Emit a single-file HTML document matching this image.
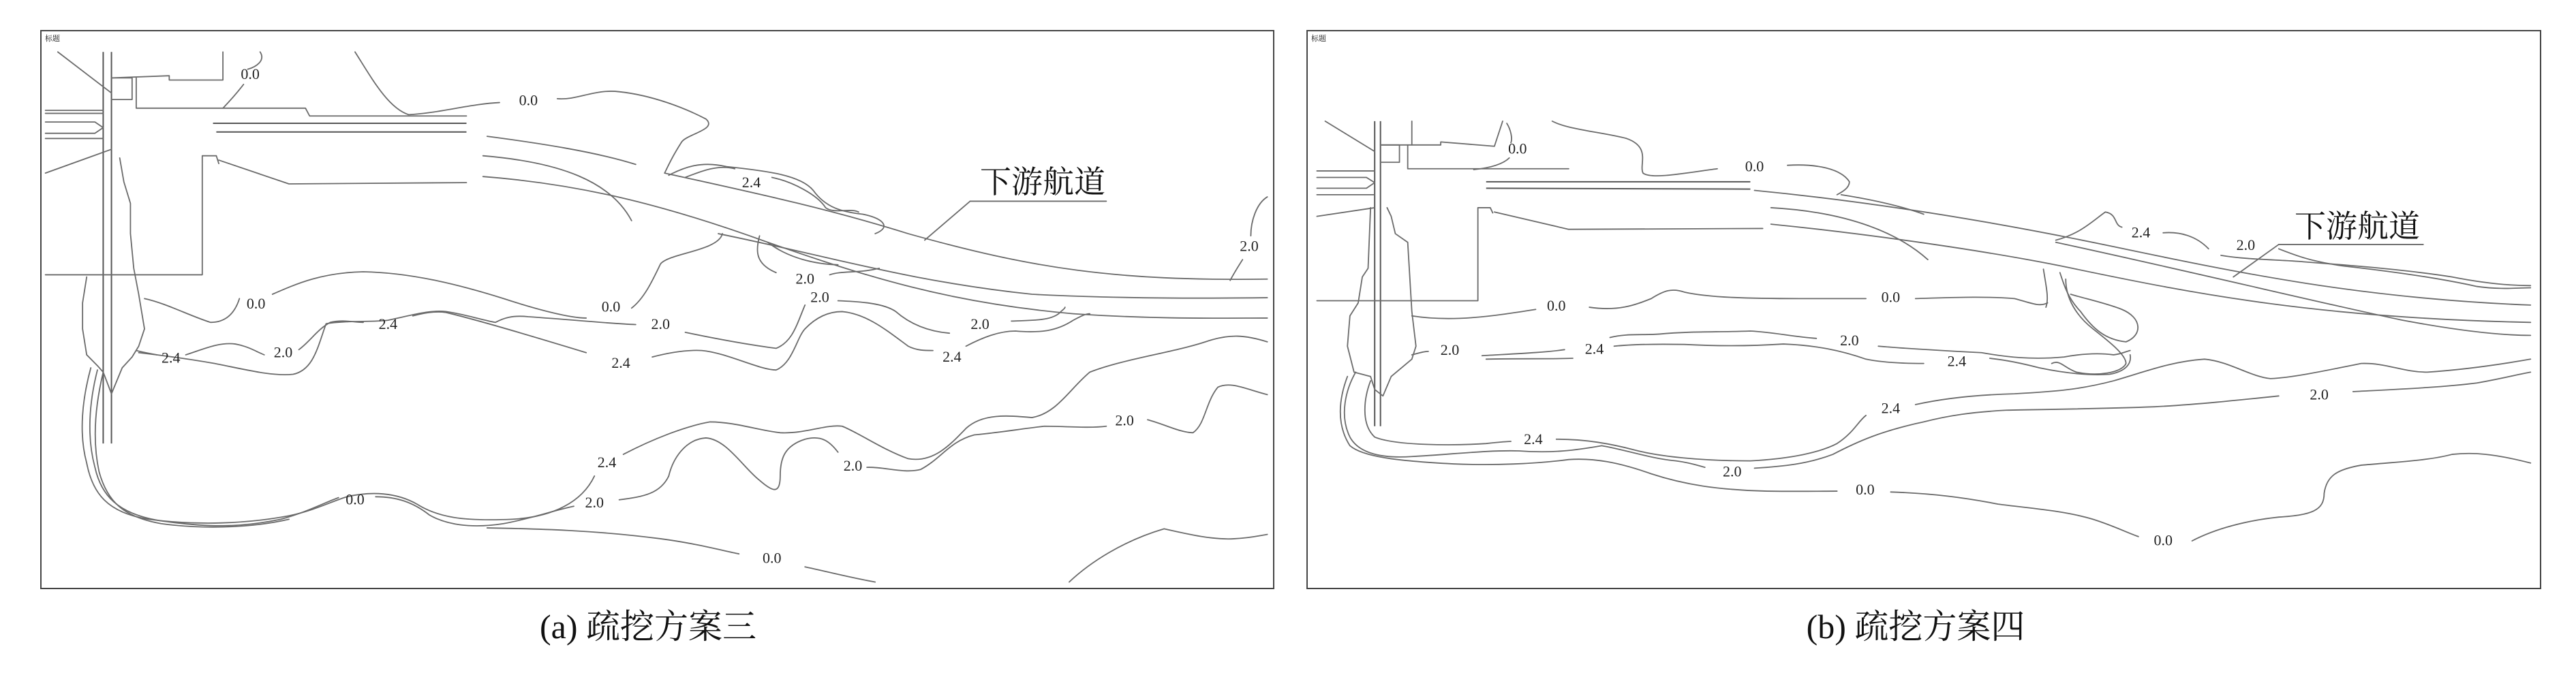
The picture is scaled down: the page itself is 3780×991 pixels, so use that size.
<!DOCTYPE html>
<html><head><meta charset="utf-8"><style>
html,body{margin:0;padding:0;background:#fff;}
svg{display:block;}
.c{fill:none;stroke:#6a6a6a;stroke-width:1.8;stroke-linejoin:round;stroke-linecap:round;}
.k{fill:none;stroke:#555;stroke-width:2;}
.l{font-family:"Liberation Serif",serif;font-size:22px;fill:#222;text-anchor:middle;dominant-baseline:middle;}
.cn{font-family:"Liberation Serif","Noto Serif CJK SC",serif;fill:#111;}
</style></head><body>
<svg width="3780" height="991" viewBox="0 0 3780 991" xmlns="http://www.w3.org/2000/svg">
<rect x="0" y="0" width="3780" height="991" fill="#fff"/>
<rect x="60" y="45" width="1809" height="819" fill="none" stroke="#444" stroke-width="2"/>
<rect x="1918" y="45" width="1810" height="819" fill="none" stroke="#444" stroke-width="2"/>
<text x="66" y="60" font-size="11" class="cn">标题</text>
<text x="1924" y="60" font-size="11" class="cn">标题</text>
<text x="951" y="937" font-size="50" class="cn" text-anchor="middle">(a) 疏挖方案三</text>
<text x="2811" y="937" font-size="50" class="cn" text-anchor="middle">(b) 疏挖方案四</text>

<!-- Panel A -->
<g transform="scale(1.2115 0.6353)">
<g vector-effect="non-scaling-stroke">
<polyline class="k" vector-effect="non-scaling-stroke" points="125,120 125,1025"/>
<polyline class="k" vector-effect="non-scaling-stroke" points="135,120 135,1025"/>
<polyline class="c" vector-effect="non-scaling-stroke" points="70,120 135,215"/>
<polyline class="c" vector-effect="non-scaling-stroke" points="135,180 205,175 205,185 270,185 270,120"/>
<polyline class="c" vector-effect="non-scaling-stroke" points="135,180 160,180 160,230 135,230"/>
<polyline class="c" vector-effect="non-scaling-stroke" points="165,180 165,250 370,250 375,268 565,268"/>
<polyline class="k" vector-effect="non-scaling-stroke" points="258,285 565,285"/>
<polyline class="k" vector-effect="non-scaling-stroke" points="262,305 565,305"/>
<polyline class="c" vector-effect="non-scaling-stroke" points="55,255 125,255"/>
<polyline class="c" vector-effect="non-scaling-stroke" points="55,262 125,262"/>
<polyline class="c" vector-effect="non-scaling-stroke" points="55,282 115,282 125,295 115,308 55,308"/>
<polyline class="c" vector-effect="non-scaling-stroke" points="55,320 125,320"/>
<polyline class="c" vector-effect="non-scaling-stroke" points="55,400 135,345"/>
<polyline class="c" vector-effect="non-scaling-stroke" points="55,635 245,635 245,360 262,360 265,378"/>
<polyline class="c" vector-effect="non-scaling-stroke" points="265,370 350,425 565,422"/>
<polyline class="c" vector-effect="non-scaling-stroke" points="145,365 150,420 158,470 158,540 162,620 168,680 175,760 168,800 160,825 148,850 135,910 125,860 118,845 105,820 100,760 100,700 105,640"/>
<!-- channel -->
<path class="c" vector-effect="non-scaling-stroke" d="M805,400 C900,440 1000,480 1100,540 C1250,620 1350,650 1535,645"/>
<path class="c" vector-effect="non-scaling-stroke" d="M590,315 C650,330 720,350 770,380"/>
<path class="c" vector-effect="non-scaling-stroke" d="M585,360 C680,375 740,420 765,510"/>
<path class="c" vector-effect="non-scaling-stroke" d="M585,408 C700,425 800,470 930,560 C1050,640 1150,700 1300,725 C1400,738 1480,735 1535,735"/>
<path class="c" vector-effect="non-scaling-stroke" d="M870,540 C1000,590 1100,650 1250,680 C1350,690 1450,690 1535,688"/>
<polyline class="c" vector-effect="non-scaling-stroke" points="1175,465 1340,465"/>
<polyline class="c" vector-effect="non-scaling-stroke" points="1175,465 1120,555"/>
<!-- contours -->
<path class="c" vector-effect="non-scaling-stroke" d="M315,120 C322,140 310,155 300,160 M295,195 C285,220 276,238 270,250"/>
<path class="c" vector-effect="non-scaling-stroke" d="M430,120 C450,180 470,250 495,265 C530,262 570,240 605,237 M675,228 C700,232 720,205 750,212 C790,220 830,250 855,275 C870,300 830,310 825,330 C815,360 810,380 805,400"/>
<path class="c" vector-effect="non-scaling-stroke" d="M810,405 C830,385 850,372 880,385 C930,395 970,405 985,440 C1000,480 1020,490 1045,495 C1070,505 1080,525 1060,540"/>
<path class="c" vector-effect="non-scaling-stroke" d="M830,410 C850,395 870,380 890,390 M935,410 C960,420 990,450 1000,480 C1010,495 1030,480 1040,490"/>
<path class="c" vector-effect="non-scaling-stroke" d="M175,690 C200,700 230,730 255,745 C275,745 285,720 290,690 M330,680 C360,655 390,630 440,628 C500,630 560,660 610,690 C650,715 690,735 710,735 M765,712 C780,690 790,650 800,610 C810,585 870,580 875,540"/>
<path class="c" vector-effect="non-scaling-stroke" d="M920,545 C915,580 915,610 940,630 M1005,635 C1020,625 1040,632 1065,620 M930,560 C950,590 980,610 1015,612"/>
<path class="c" vector-effect="non-scaling-stroke" d="M165,810 C175,815 185,818 190,820 M225,820 C245,808 265,790 285,795 C300,800 310,812 320,820 M362,808 C375,790 385,760 400,745 C415,738 430,745 440,745 M500,730 C510,725 525,718 540,722 C580,740 650,780 710,815 M790,825 C810,815 830,808 850,810 C880,815 920,855 940,855 C960,840 965,780 975,760 C985,740 1000,720 1020,720 C1050,725 1075,765 1100,800 C1110,810 1120,810 1130,810 M1170,800 C1190,780 1210,765 1230,765 C1260,770 1280,765 1300,740 C1310,730 1315,725 1320,725"/>
<path class="c" vector-effect="non-scaling-stroke" d="M168,815 C200,822 230,830 260,840 C300,855 330,870 355,865 C380,855 385,800 395,748 C420,740 450,745 470,740 C500,728 520,716 540,720 C560,725 585,740 600,745 C610,735 620,728 640,732 C700,740 740,748 770,750 M830,768 C860,780 900,795 940,805 C960,790 965,750 975,705 M1015,695 C1040,697 1070,700 1085,720 C1100,745 1120,765 1150,770 M1225,742 C1250,740 1275,742 1285,720 C1288,715 1290,712 1290,710"/>
<path class="c" vector-effect="non-scaling-stroke" d="M110,850 C100,920 95,1000 105,1070 C112,1140 130,1185 180,1200 C240,1215 300,1210 350,1192 C380,1180 400,1160 420,1148 C450,1135 480,1138 505,1165 C530,1195 560,1205 620,1200 C670,1195 705,1160 720,1100 M755,1050 C790,1015 830,985 860,975 C890,975 920,995 945,1000 C975,1003 1000,980 1020,985 C1040,1000 1070,1040 1100,1060 C1130,1070 1150,1030 1170,990 C1190,955 1220,960 1250,965 C1280,955 1295,900 1320,860 C1360,830 1420,815 1460,790 C1490,770 1510,775 1535,790"/>
<path class="c" vector-effect="non-scaling-stroke" d="M118,855 C108,930 105,1010 115,1080 C122,1140 140,1190 200,1205 C250,1218 290,1220 340,1200 C370,1185 395,1160 410,1150 M455,1148 C480,1148 500,1160 520,1190 C540,1212 570,1222 610,1210 C640,1200 670,1180 695,1170 M750,1155 C780,1148 800,1140 810,1100 C815,1060 830,1015 855,1012 C880,1015 900,1080 920,1110 C935,1135 945,1145 945,1100 C945,1060 950,1030 975,1015 C995,1005 1005,1020 1015,1045 M1050,1080 C1070,1078 1095,1095 1115,1085 C1140,1060 1150,1020 1180,1005 C1210,1000 1240,990 1265,985 C1290,985 1320,990 1340,985 M1390,970 C1410,980 1430,1000 1445,1000 C1460,980 1460,930 1475,895 C1490,880 1510,900 1535,912"/>
<path class="c" vector-effect="non-scaling-stroke" d="M125,860 C115,940 112,1020 120,1090 C130,1160 150,1195 195,1210 C240,1222 300,1222 350,1200 M590,1220 C650,1222 720,1225 800,1245 C840,1255 870,1270 895,1280 M975,1310 C1000,1320 1030,1335 1060,1345"/>
<path class="c" vector-effect="non-scaling-stroke" d="M1295,1345 C1320,1300 1360,1250 1410,1222 C1440,1235 1470,1248 1495,1245 C1515,1243 1525,1238 1535,1235"/>
<path class="c" vector-effect="non-scaling-stroke" d="M1535,455 C1522,470 1515,510 1515,545 M1505,600 C1500,615 1495,630 1490,648"/>
<!-- labels -->
<g transform="translate(303 175) scale(.8254 1.574)"><text class="l">0.0</text></g>
<g transform="translate(640 235) scale(.8254 1.574)"><text class="l">0.0</text></g>
<g transform="translate(910 425) scale(.8254 1.574)"><text class="l">2.4</text></g>
<g transform="translate(310 705) scale(.8254 1.574)"><text class="l">0.0</text></g>
<g transform="translate(740 712) scale(.8254 1.574)"><text class="l">0.0</text></g>
<g transform="translate(975 648) scale(.8254 1.574)"><text class="l">2.0</text></g>
<g transform="translate(993 690) scale(.8254 1.574)"><text class="l">2.0</text></g>
<g transform="translate(800 752) scale(.8254 1.574)"><text class="l">2.0</text></g>
<g transform="translate(1187 752) scale(.8254 1.574)"><text class="l">2.0</text></g>
<g transform="translate(470 752) scale(.8254 1.574)"><text class="l">2.4</text></g>
<g transform="translate(207 830) scale(.8254 1.574)"><text class="l">2.4</text></g>
<g transform="translate(343 818) scale(.8254 1.574)"><text class="l">2.0</text></g>
<g transform="translate(752 842) scale(.8254 1.574)"><text class="l">2.4</text></g>
<g transform="translate(1153 828) scale(.8254 1.574)"><text class="l">2.4</text></g>
<g transform="translate(1513 572) scale(.8254 1.574)"><text class="l">2.0</text></g>
<g transform="translate(1362 975) scale(.8254 1.574)"><text class="l">2.0</text></g>
<g transform="translate(735 1072) scale(.8254 1.574)"><text class="l">2.4</text></g>
<g transform="translate(1033 1080) scale(.8254 1.574)"><text class="l">2.0</text></g>
<g transform="translate(430 1158) scale(.8254 1.574)"><text class="l">0.0</text></g>
<g transform="translate(720 1165) scale(.8254 1.574)"><text class="l">2.0</text></g>
<g transform="translate(935 1293) scale(.8254 1.574)"><text class="l">0.0</text></g>
</g>
</g>
<text x="1530" y="283" font-size="46" class="cn" text-anchor="middle">下游航道</text>

<!-- Panel B -->
<g transform="translate(1890 0) scale(1.2115 0.6353)">
<polyline class="k" vector-effect="non-scaling-stroke" points="105,280 105,985"/>
<polyline class="k" vector-effect="non-scaling-stroke" points="112,280 112,985"/>
<polyline class="c" vector-effect="non-scaling-stroke" points="45,280 105,350"/>
<polyline class="c" vector-effect="non-scaling-stroke" points="112,335 185,335 185,328 250,338 260,280"/>
<polyline class="c" vector-effect="non-scaling-stroke" points="150,280 150,335"/>
<polyline class="c" vector-effect="non-scaling-stroke" points="112,335 135,335 135,375 112,375"/>
<polyline class="c" vector-effect="non-scaling-stroke" points="145,335 145,390 340,390"/>
<polyline class="k" vector-effect="non-scaling-stroke" points="240,420 560,420"/>
<polyline class="k" vector-effect="non-scaling-stroke" points="240,435 560,437"/>
<polyline class="c" vector-effect="non-scaling-stroke" points="35,395 105,395"/>
<polyline class="c" vector-effect="non-scaling-stroke" points="35,410 95,410 105,422 95,435 35,435"/>
<polyline class="c" vector-effect="non-scaling-stroke" points="35,450 105,450"/>
<polyline class="c" vector-effect="non-scaling-stroke" points="35,500 105,480"/>
<polyline class="c" vector-effect="non-scaling-stroke" points="35,695 230,695 230,480 245,480 248,492"/>
<polyline class="c" vector-effect="non-scaling-stroke" points="250,490 340,530 575,528"/>
<polyline class="c" vector-effect="non-scaling-stroke" points="120,480 125,500 130,540 145,560 150,720 155,800 150,830 125,870 115,915 105,900 100,870 80,860 72,800 75,730 85,700 90,640 97,620 100,480"/>
<!-- channel -->
<path class="c" vector-effect="non-scaling-stroke" d="M565,440 C700,465 850,510 1000,570 C1150,630 1300,690 1505,705"/>
<path class="c" vector-effect="non-scaling-stroke" d="M670,450 C710,462 745,478 770,495"/>
<path class="c" vector-effect="non-scaling-stroke" d="M585,480 C680,490 740,540 775,600"/>
<path class="c" vector-effect="non-scaling-stroke" d="M585,518 C700,540 850,580 950,620 C1100,680 1250,735 1505,745"/>
<path class="c" vector-effect="non-scaling-stroke" d="M930,560 C1100,630 1250,700 1350,740 C1420,765 1470,775 1505,775"/>
<polyline class="c" vector-effect="non-scaling-stroke" points="1200,565 1375,565"/>
<polyline class="c" vector-effect="non-scaling-stroke" points="1200,565 1145,640"/>
<!-- contours -->
<path class="c" vector-effect="non-scaling-stroke" d="M265,285 C270,300 272,320 270,330 M268,365 C260,380 245,388 225,392"/>
<path class="c" vector-effect="non-scaling-stroke" d="M320,280 C340,300 380,305 410,320 C440,340 425,380 430,400 C440,415 480,400 520,390 M605,382 C640,378 670,390 680,420 C680,435 670,445 665,450"/>
<path class="c" vector-effect="non-scaling-stroke" d="M930,555 C960,540 975,510 990,490 C1005,495 1000,520 1010,525 M1060,538 C1080,535 1100,545 1115,575 M1200,575 C1220,590 1240,605 1280,615 C1350,630 1400,645 1440,662 C1470,670 1490,665 1505,665"/>
<path class="c" vector-effect="non-scaling-stroke" d="M1130,590 C1160,600 1200,600 1230,605 C1300,615 1360,625 1410,640 C1450,655 1480,660 1505,660"/>
<path class="c" vector-effect="non-scaling-stroke" d="M915,622 C918,660 922,690 918,710"/>
<path class="c" vector-effect="non-scaling-stroke" d="M935,630 C940,660 945,690 960,720 C975,760 990,785 1015,790 C1035,775 1035,735 1010,715 C990,700 965,690 948,680"/>
<path class="c" vector-effect="non-scaling-stroke" d="M942,645 C942,690 955,730 975,760 C995,790 1015,820 1015,840 C1010,862 980,870 955,860 C940,850 935,830 925,840"/>
<path class="c" vector-effect="non-scaling-stroke" d="M150,730 C200,745 250,730 300,715 M365,710 C400,720 420,705 440,690 C455,672 465,665 480,675 C510,688 560,690 620,690 C650,690 680,690 700,690 M760,690 C800,688 840,684 880,690 C900,700 910,710 920,700"/>
<path class="c" vector-effect="non-scaling-stroke" d="M150,820 C160,815 165,812 170,812 M235,822 C270,818 310,815 335,808 M390,780 C410,770 430,775 450,772 C490,765 520,768 560,765 C590,768 610,778 640,782 M715,800 C750,806 790,810 840,815 C870,825 900,832 940,825 C960,818 980,815 1000,820 C1010,818 1015,812 1020,810"/>
<path class="c" vector-effect="non-scaling-stroke" d="M240,830 C280,828 320,830 345,828 M395,800 C420,795 450,795 480,796 C520,800 560,800 600,795 C640,798 670,810 700,830 C720,838 745,840 770,840 M850,828 C870,832 890,840 910,850 C940,862 970,868 995,865 C1015,858 1022,840 1020,820"/>
<path class="c" vector-effect="non-scaling-stroke" d="M100,880 C92,920 88,980 105,1010 C130,1030 200,1030 240,1025 C255,1022 265,1020 270,1020 M325,1015 C360,1015 390,1025 420,1040 C450,1055 500,1065 560,1065 C610,1060 645,1045 665,1025 C685,1000 690,975 700,960 M760,935 C800,918 840,912 880,910 C930,905 960,900 1000,880 C1040,858 1070,835 1110,830 C1140,835 1165,870 1190,875 C1220,872 1260,855 1300,840 C1330,838 1350,860 1380,860 C1420,855 1460,845 1505,830"/>
<path class="c" vector-effect="non-scaling-stroke" d="M82,860 C70,900 62,960 75,1010 C85,1045 110,1060 150,1055 C200,1050 240,1040 280,1042 C320,1048 350,1040 380,1030 C410,1040 440,1060 470,1065 C490,1070 500,1078 505,1080 M565,1082 C600,1078 630,1072 660,1050 C690,1020 720,995 770,975 C800,960 830,952 870,948 C920,946 980,945 1050,940 C1100,935 1150,925 1200,915 M1290,905 C1340,900 1400,895 1440,885 C1470,875 1490,865 1505,860"/>
<path class="c" vector-effect="non-scaling-stroke" d="M72,870 C62,920 58,980 75,1030 C90,1055 130,1065 200,1072 C250,1076 300,1072 340,1062 C370,1058 400,1068 440,1095 C480,1120 520,1132 580,1135 C620,1136 650,1135 665,1135 M730,1137 C780,1140 820,1150 860,1165 C900,1175 940,1180 975,1200 C1000,1215 1015,1230 1030,1240 M1095,1250 C1115,1230 1150,1205 1200,1195 C1240,1190 1255,1180 1255,1140 C1258,1100 1270,1085 1300,1075 C1340,1068 1380,1065 1410,1050 C1435,1045 1460,1048 1505,1070"/>
<!-- labels -->
<g transform="translate(278 347) scale(.8254 1.574)"><text class="l">0.0</text></g>
<g transform="translate(565 388) scale(.8254 1.574)"><text class="l">0.0</text></g>
<g transform="translate(1033 541) scale(.8254 1.574)"><text class="l">2.4</text></g>
<g transform="translate(1160 570) scale(.8254 1.574)"><text class="l">2.0</text></g>
<g transform="translate(325 710) scale(.8254 1.574)"><text class="l">0.0</text></g>
<g transform="translate(730 690) scale(.8254 1.574)"><text class="l">0.0</text></g>
<g transform="translate(196 812) scale(.8254 1.574)"><text class="l">2.0</text></g>
<g transform="translate(371 810) scale(.8254 1.574)"><text class="l">2.4</text></g>
<g transform="translate(680 790) scale(.8254 1.574)"><text class="l">2.0</text></g>
<g transform="translate(810 838) scale(.8254 1.574)"><text class="l">2.4</text></g>
<g transform="translate(730 947) scale(.8254 1.574)"><text class="l">2.4</text></g>
<g transform="translate(1249 915) scale(.8254 1.574)"><text class="l">2.0</text></g>
<g transform="translate(297 1018) scale(.8254 1.574)"><text class="l">2.4</text></g>
<g transform="translate(538 1093) scale(.8254 1.574)"><text class="l">2.0</text></g>
<g transform="translate(699 1135) scale(.8254 1.574)"><text class="l">0.0</text></g>
<g transform="translate(1060 1252) scale(.8254 1.574)"><text class="l">0.0</text></g>
</g>
<text x="3459" y="348" font-size="46" class="cn" text-anchor="middle">下游航道</text>
</svg>
</body></html>
